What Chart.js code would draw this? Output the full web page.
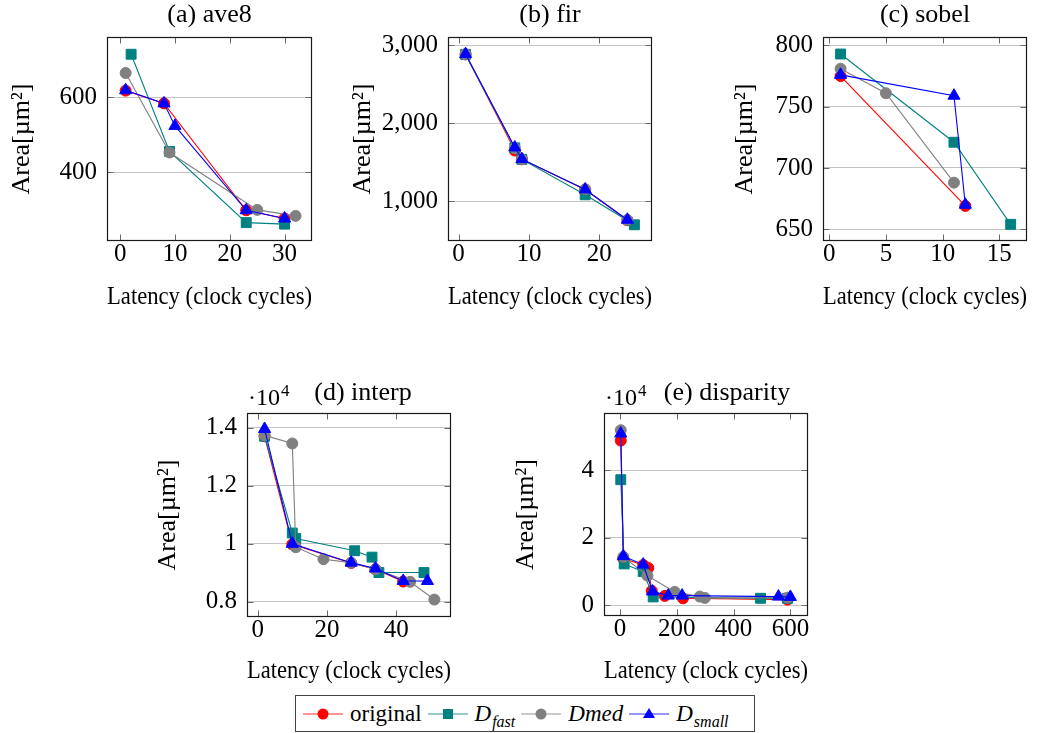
<!DOCTYPE html>
<html><head><meta charset="utf-8">
<script src="https://cdn.jsdelivr.net/npm/chart.js@4/dist/chart.umd.min.js"></script>
<style>
html,body{margin:0;padding:0;background:#fff;}
#fig{position:relative;width:1048px;height:733px;overflow:hidden;font-family:"Liberation Serif",serif;background:#fff;}
#fig canvas{position:absolute;}
#legend{position:absolute;left:295px;top:695px;width:460px;height:37px;border:1px solid #444;box-sizing:border-box;display:flex;align-items:center;justify-content:flex-start;padding-left:7px;font-size:23px;color:#000;}
.item{display:flex;align-items:center;margin-right:6px;white-space:nowrap;}
.item svg{margin-right:7px;}
.lbl{display:inline-block;line-height:1;}
.it{font-style:italic;}
.lbl sub{font-size:16px;font-style:italic;vertical-align:-6px;line-height:0;margin-left:1px;}
</style></head><body>
<div id="fig"><div id="legend"></div></div>
<script>
// ---------- series ----------
const seriesNames = ['original', 'D_fast', 'Dmed', 'D_small'];

// ---------- (a) ave8 ----------
const ave8Original = [[1,617],[8,583],[23,298],[30,276]];
const ave8Fast     = [[2,714],[9,455],[23,265],[30,261]];
const ave8Med      = [[1,664],[9,452],[25,299],[32,283]];
const ave8Small    = [[1,618],[8,583],[10,523],[23,298],[30,276]];
const ave8XTicks = [0,10,20,30];
const ave8YTicks = [400,600];

// ---------- (b) fir ----------
const firOriginal = [[1,2885],[8,1650],[9,1537],[18,1150],[24,755]];
const firFast     = [[1,2885],[8,1685],[9,1537],[18,1082],[25,697]];
const firMed      = [[1,2885],[8,1680],[9,1540],[18,1152],[24,760]];
const firSmall    = [[1,2888],[8,1690],[9,1540],[18,1150],[24,762]];
const firXTicks = [0,10,20];
const firYTicks = [1000,2000,3000];

// ---------- (c) sobel ----------
const sobelOriginal = [[1,775],[12,669]];
const sobelFast     = [[1,793],[11,721],[16,654]];
const sobelMed      = [[1,781],[5,761],[11,688]];
const sobelSmall    = [[1,776],[11,759],[12,670]];
const sobelXTicks = [0,5,10,15];
const sobelYTicks = [650,700,750,800];

// ---------- (d) interp ----------
const interpOriginal = [[2,13700],[10,9980],[27,9340],[34,9120],[42,8700]];
const interpFast     = [[2,13700],[10,10370],[11,10180],[28,9760],[33,9540],[35,9010],[48,9010]];
const interpMed      = [[2,13730],[10,13450],[11,9880],[19,9470],[27,9350],[34,9120],[44,8690],[51,8080]];
const interpSmall    = [[2,13950],[10,10000],[27,9350],[34,9150],[42,8720],[49,8720]];
const interpXTicks = [0,20,40];
const interpYTicks = [8000,10000,12000,14000];

// ---------- (e) disparity ----------
const dispOriginal = [[3,48800],[12,13800],[82,11900],[100,11000],[112,4200],[158,2700],[222,2000],[590,1600]];
const dispFast     = [[3,37200],[15,12200],[82,9900],[117,2400],[495,2000],[590,2000]];
const dispMed      = [[3,51900],[12,14300],[97,8700],[193,3900],[281,2500],[299,2100],[590,2200]];
const dispSmall    = [[3,50900],[12,14500],[82,12000],[115,4000],[170,2800],[219,2800],[558,2500],[600,2400]];
const dispXTicks = [0,200,400,600];
const dispYTicks = [0,20000,40000];

const panelTitles = ['(a) ave8', '(b) fir', '(c) sobel', '(d) interp', '(e) disparity'];
const xAxisTitle = 'Latency (clock cycles)';
const yAxisTitle = 'Area[µm²]';

// ---------- styles ----------
const FONT = '"Liberation Serif", "Times New Roman", serif';
const TICK_SIZE = 25, TITLE_SIZE = 26;
const seriesColors = ['#ff0000', '#008080', '#808080', '#0000ff'];
const seriesMarkers = ['circle', 'rect', 'circle', 'triangle'];
const markerRadius = [5.5, 7, 5.5, 7];

const fmtPlain = v => String(v);
const fmtComma = v => v.toLocaleString('en-US');
const fmtE4 = v => String(Math.round(v / 1000) / 10);

const panels = [
  { title: panelTitles[0], series: [ave8Original, ave8Fast, ave8Med, ave8Small], xTicks: ave8XTicks, yTicks: ave8YTicks, fmt: fmtPlain,
    top: 0, area: {l:107, t:37, r:312, b:241}, x: [-2.4, 35], y: [216, 760], yTitleX: 22, xTitleY: 298, tdx: 0, tdy: 22 },
  { title: panelTitles[1], series: [firOriginal, firFast, firMed, firSmall], xTicks: firXTicks, yTicks: firYTicks, fmt: fmtComma,
    top: 0, area: {l:448, t:37, r:652, b:241}, x: [-1.5, 27.5], y: [489, 3108], yTitleX: 363, xTitleY: 298, tdx: 0, tdy: 22 },
  { title: panelTitles[2], series: [sobelOriginal, sobelFast, sobelMed, sobelSmall], xTicks: sobelXTicks, yTicks: sobelYTicks, fmt: fmtPlain,
    top: 0, area: {l:823, t:37, r:1027, b:241}, x: [-0.55, 17.44], y: [640.4, 806.9], yTitleX: 745, xTitleY: 298, tdx: 0, tdy: 22 },
  { title: panelTitles[3], series: [interpOriginal, interpFast, interpMed, interpSmall], xTicks: interpXTicks, yTicks: interpYTicks, fmt: fmtE4,
    top: 370, area: {l:247, t:413, r:451, b:617}, x: [-3.07, 55.8], y: [7480, 14500], yTitleX: 168, xTitleY: 672, tdx: 14, tdy: 20, mult: true },
  { title: panelTitles[4], series: [dispOriginal, dispFast, dispMed, dispSmall], xTicks: dispXTicks, yTicks: dispYTicks, fmt: fmtE4,
    top: 370, area: {l:604, t:413, r:808, b:616}, x: [-56, 662], y: [-3260, 57000], yTitleX: 526, xTitleY: 672, tdx: 21, tdy: 20, mult: true }
];

const framePlugin = {
  id: 'frame',
  beforeDatasetsDraw(chart) {
    const {ctx, chartArea: a, scales} = chart;
    const L = Math.round(a.left) + 0.5, R = Math.round(a.right) - 0.5, T = Math.round(a.top) + 0.5, B = Math.round(a.bottom) - 0.5;
    const tl = 6;
    ctx.save();
    ctx.strokeStyle = '#6a6a6a'; ctx.lineWidth = 1;
    ctx.beginPath();
    scales.x.ticks.forEach(t => {
      const px = Math.round(scales.x.getPixelForValue(t.value)) + 0.5;
      ctx.moveTo(px, T); ctx.lineTo(px, T + tl);
      ctx.moveTo(px, B); ctx.lineTo(px, B - tl);
    });
    scales.y.ticks.forEach(t => {
      const py = Math.round(scales.y.getPixelForValue(t.value)) + 0.5;
      ctx.moveTo(L, py); ctx.lineTo(L + tl, py);
      ctx.moveTo(R, py); ctx.lineTo(R - tl, py);
    });
    ctx.stroke();
    ctx.strokeStyle = '#1a1a1a'; ctx.lineWidth = 1.2;
    ctx.strokeRect(L, T, R - L, B - T);
    ctx.restore();
  },
  afterDraw(chart, args, opts) {
    const {ctx, chartArea: a} = chart;
    ctx.save();
    ctx.fillStyle = '#000';
    ctx.font = TITLE_SIZE + 'px ' + FONT;
    ctx.textAlign = 'center'; ctx.textBaseline = 'middle';
    ctx.fillText(opts.title, (a.left + a.right) / 2 + opts.dx, a.top - opts.dy);
    if (opts.mult) {
      ctx.textAlign = 'left'; ctx.textBaseline = 'alphabetic';
      ctx.font = '24px ' + FONT;
      const x = a.left + 1, y = a.top - 8;
      ctx.fillText('·10', x, y);
      const w = ctx.measureText('·10').width;
      ctx.font = '17px ' + FONT;
      ctx.fillText('4', x + w + 1, y - 9);
    }
    ctx.restore();
  }
};

const fig = document.getElementById('fig');

panels.forEach(p => {
  const cl = p.yTitleX - 20, ct = p.top;
  const cw = p.area.r + 14 - cl, ch = Math.round(p.xTitleY + 15 - ct);
  const cv = document.createElement('canvas');
  cv.width = cw; cv.height = ch;
  cv.style.left = cl + 'px'; cv.style.top = ct + 'px';
  cv.style.width = cw + 'px'; cv.style.height = ch + 'px';
  fig.appendChild(cv);
  const datasets = p.series.map((pts, i) => ({
    label: seriesNames[i],
    data: pts.map(([x, y]) => ({x, y})),
    showLine: true,
    borderColor: seriesColors[i],
    backgroundColor: seriesColors[i],
    borderWidth: 1.1,
    pointStyle: seriesMarkers[i],
    pointRadius: markerRadius[i],
    pointBorderWidth: 1,
    pointBorderColor: seriesColors[i],
    pointBackgroundColor: seriesColors[i],
    order: 3 - i,
    clip: false
  }));
  new Chart(cv, {
    type: 'scatter',
    data: { datasets },
    options: {
      responsive: false, animation: false, devicePixelRatio: 1,
      events: [],
      layout: { padding: { top: p.area.t - ct, right: cl + cw - p.area.r, left: 0, bottom: 0 } },
      plugins: {
        legend: { display: false }, tooltip: { enabled: false },
        frame: { title: p.title, dx: p.tdx, dy: p.tdy, mult: !!p.mult }
      },
      scales: {
        x: {
          type: 'linear', min: p.x[0], max: p.x[1],
          afterFit: s => { s.height = ct + ch - p.area.b; },
          afterBuildTicks: s => { s.ticks = p.xTicks.map(v => ({ value: v })); },
          grid: { display: false, drawTicks: false },
          border: { display: false },
          ticks: { font: { family: FONT, size: TICK_SIZE, lineHeight: 1 }, color: '#000', padding: 1, maxRotation: 0, autoSkip: false, callback: v => String(v) },
          title: { display: true, text: xAxisTitle, color: '#000', font: { family: FONT, size: TITLE_SIZE, lineHeight: 1.2 }, padding: { top: 0, bottom: 0 } }
        },
        y: {
          type: 'linear', min: p.y[0], max: p.y[1],
          afterFit: s => { s.width = p.area.l - cl; },
          afterBuildTicks: s => { s.ticks = p.yTicks.map(v => ({ value: v })); },
          grid: { color: '#c4c4c4', lineWidth: 1, drawTicks: false },
          border: { display: false },
          ticks: { font: { family: FONT, size: TICK_SIZE, lineHeight: 1 }, color: '#000', padding: 10, autoSkip: false, callback: v => p.fmt(v) },
          title: { display: true, text: yAxisTitle, color: '#000', font: { family: FONT, size: TITLE_SIZE, lineHeight: 1.2 }, padding: { top: 4.4, bottom: 0 } }
        }
      }
    },
    plugins: [framePlugin]
  });
});

// ---------- legend (HTML, real text) ----------
const legend = document.getElementById('legend');
function markerSvg(i) {
  const c = seriesColors[i];
  let m;
  if (seriesMarkers[i] === 'circle') m = `<circle cx="20" cy="10" r="5.5" fill="${c}"/>`;
  else if (seriesMarkers[i] === 'rect') m = `<rect x="15" y="5" width="10" height="10" fill="${c}"/>`;
  else m = `<polygon points="20,4 26,14 14,14" fill="${c}"/>`;
  return `<svg width="40" height="20" viewBox="0 0 40 20"><line x1="0" y1="10" x2="40" y2="10" stroke="${c}" stroke-width="1.5" stroke-opacity="0.55"/>${m}</svg>`;
}
function labelHtml(name) {
  if (name.includes('_')) {
    const [a, b] = name.split('_');
    return `<span class="lbl"><span class="it">${a}</span><sub>${b}</sub></span>`;
  }
  if (name === seriesNames[0]) return `<span class="lbl">${name}</span>`;
  return `<span class="lbl it">${name}</span>`;
}
seriesNames.forEach((n, i) => {
  const d = document.createElement('div');
  d.className = 'item';
  d.innerHTML = markerSvg(i) + labelHtml(n);
  legend.appendChild(d);
});
</script>
</body></html>
